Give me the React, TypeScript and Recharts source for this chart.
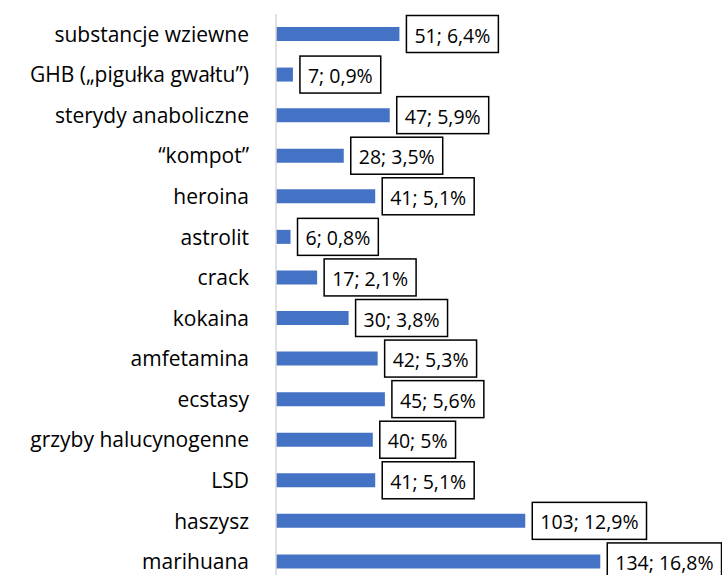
import { BarChart, Bar, XAxis, YAxis, LabelList } from "recharts";

const categories = [
  "substancje wziewne",
  "GHB („pigułka gwałtu”)",
  "sterydy anaboliczne",
  "“kompot”",
  "heroina",
  "astrolit",
  "crack",
  "kokaina",
  "amfetamina",
  "ecstasy",
  "grzyby halucynogenne",
  "LSD",
  "haszysz",
  "marihuana",
];

const counts = [51, 7, 47, 28, 41, 6, 17, 30, 42, 45, 40, 41, 103, 134];

const percents = [6.4, 0.9, 5.9, 3.5, 5.1, 0.8, 2.1, 3.8, 5.3, 5.6, 5, 5.1, 12.9, 16.8];

const data = categories.map((name, i) => ({ name, value: counts[i] }));

const FONT = "Open Sans";
const LABEL_SIZE = 19.5;

let ctx: CanvasRenderingContext2D | null = null;
function textWidth(s: string) {
  if (!ctx) ctx = document.createElement("canvas").getContext("2d");
  if (!ctx) return s.length * 10;
  ctx.font = `${LABEL_SIZE}px "${FONT}"`;
  return ctx.measureText(s).width;
}

function BoxLabel(props: any) {
  const { x, y, width, height, index } = props;
  const text = `${counts[index]}; ${String(percents[index]).replace(".", ",")}%`;
  const w = textWidth(text) + 16;
  const h = 37;
  const left = x + width + 7;
  const cy = y + height / 2;
  return (
    <g>
      <rect x={left} y={cy - h / 2} width={w} height={h} fill="#fff" stroke="#000" strokeWidth={1.5} />
      <text
        x={left + 8}
        y={cy + 1}
        dominantBaseline="central"
        fontSize={LABEL_SIZE}
        fontFamily={FONT}
        fill="#000"
      >
        {text}
      </text>
    </g>
  );
}

export default function App() {
  return (
    <div style={{ position: "absolute", left: 0, top: 0, width: 722, height: 575, overflow: "hidden", background: "#fff" }}>
      <BarChart
        width={722}
        height={582}
        data={data}
        layout="vertical"
        margin={{ top: 14, right: 83, bottom: 0, left: 0 }}
        barCategoryGap={0}
      >
        <XAxis type="number" domain={[0, 150]} hide />
        <YAxis
          type="category"
          dataKey="name"
          width={276}
          interval={0}
          tickLine={false}
          axisLine={{ stroke: "#d9d9d9", strokeWidth: 1.5 }}
          tickMargin={21}
          tick={{ fontSize: 21, fontFamily: FONT, fill: "#000" }}
        />
        <Bar dataKey="value" fill="#4472C4" barSize={14} isAnimationActive={false}>
          <LabelList dataKey="value" content={<BoxLabel />} />
        </Bar>
      </BarChart>
    </div>
  );
}
